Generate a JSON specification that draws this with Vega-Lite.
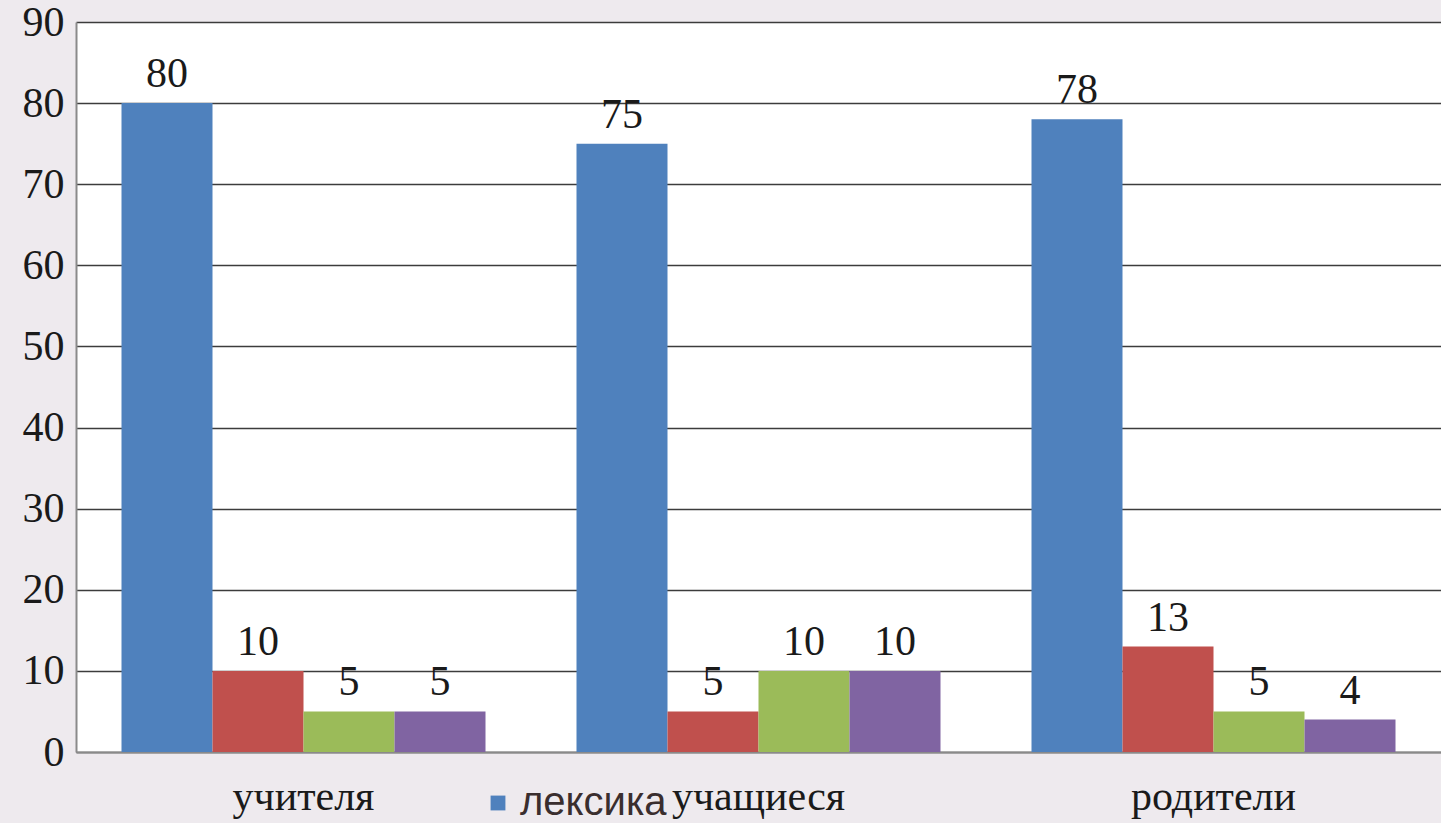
{
  "$schema": "https://vega.github.io/schema/vega-lite/v6.json",
  "width": 1365,
  "height": 730,
  "autosize": "none",
  "padding": {"left": 76, "top": 22, "right": 0, "bottom": 71},
  "background": "#eeeaee",
  "config": {
    "view": {"fill": "#ffffff", "stroke": null},
    "font": "Times New Roman"
  },
  "data": {
    "values": [
      {"group": "учителя", "series": "лексика", "value": 80},
      {"group": "учителя", "series": "Ряд 2", "value": 10},
      {"group": "учителя", "series": "Ряд 3", "value": 5},
      {"group": "учителя", "series": "Ряд 4", "value": 5},
      {"group": "учащиеся", "series": "лексика", "value": 75},
      {"group": "учащиеся", "series": "Ряд 2", "value": 5},
      {"group": "учащиеся", "series": "Ряд 3", "value": 10},
      {"group": "учащиеся", "series": "Ряд 4", "value": 10},
      {"group": "родители", "series": "лексика", "value": 78},
      {"group": "родители", "series": "Ряд 2", "value": 13},
      {"group": "родители", "series": "Ряд 3", "value": 5},
      {"group": "родители", "series": "Ряд 4", "value": 4}
    ]
  },
  "encoding": {
    "x": {
      "field": "group", "type": "nominal", "sort": null,
      "scale": {"paddingInner": 0.2, "paddingOuter": 0.1},
      "axis": {
        "title": null, "labelAngle": 0, "ticks": false, "grid": false,
        "labelFont": "Times New Roman", "labelFontSize": 42, "labelColor": "#1a1a1a",
        "labelPadding": 24, "domainColor": "#8a8a8a", "domainWidth": 2
      }
    },
    "xOffset": {
      "field": "series", "type": "nominal", "sort": null,
      "scale": {"paddingInner": 0, "paddingOuter": 0}
    },
    "y": {
      "field": "value", "type": "quantitative",
      "scale": {"domain": [0, 90], "nice": false},
      "axis": {
        "title": null, "values": [0, 10, 20, 30, 40, 50, 60, 70, 80, 90],
        "ticks": false, "grid": true, "gridColor": "#3c3c3c", "gridWidth": 1.5,
        "domainColor": "#8a8a8a", "domainWidth": 2,
        "labelFont": "Times New Roman", "labelFontSize": 42, "labelColor": "#1a1a1a",
        "labelPadding": 12
      }
    }
  },
  "layer": [
    {
      "mark": {"type": "bar"},
      "encoding": {
        "color": {
          "field": "series", "type": "nominal", "sort": null,
          "scale": {
            "domain": ["лексика", "Ряд 2", "Ряд 3", "Ряд 4"],
            "range": ["#4f81bd", "#c0504d", "#9bbb59", "#8064a2"]
          },
          "legend": {
            "values": ["лексика"], "title": null, "orient": "none",
            "legendX": 402, "legendY": 761,
            "symbolType": "square", "symbolSize": 220, "symbolStrokeWidth": 0,
            "labelFont": "Arial", "labelFontSize": 40, "labelColor": "#3a2e2e",
            "labelOffset": 2, "labelLimit": 400
          }
        }
      }
    },
    {
      "mark": {"type": "text", "baseline": "bottom", "dy": -7, "font": "Times New Roman", "fontSize": 42, "color": "#1a1a1a"},
      "encoding": {"text": {"field": "value", "type": "quantitative"}}
    }
  ]
}
